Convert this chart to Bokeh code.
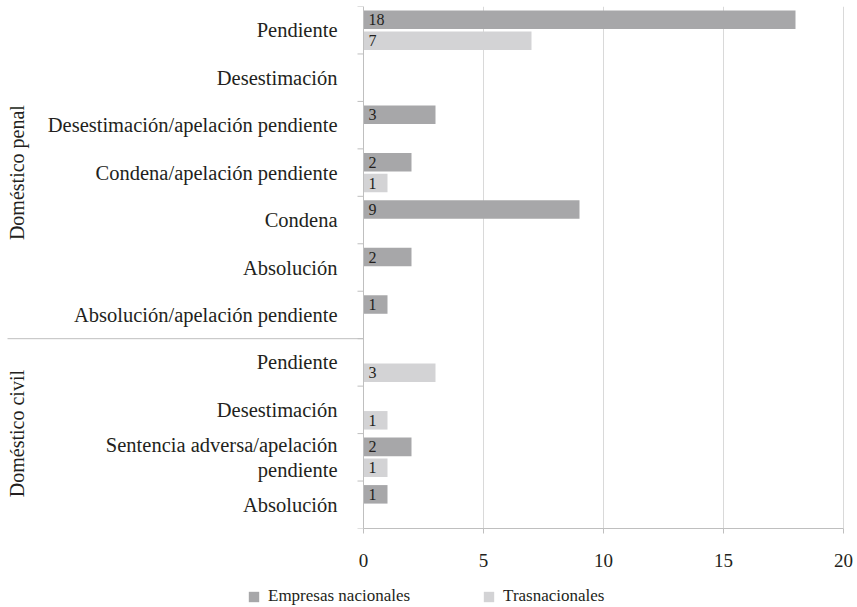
import math
from bokeh.plotting import figure
from bokeh.layouts import column
from bokeh.models import (FactorRange, Range1d, ColumnDataSource, Span, Legend,
                          LegendItem, Grid)
from bokeh.transform import dodge
from bokeh.core.properties import value
from bokeh.embed import file_html
from bokeh.resources import INLINE

# ---------------- data ----------------
groups = ["Doméstico penal", "Doméstico civil"]
penal_categories = ["Pendiente", "Desestimación",
                    "Desestimación/apelación pendiente",
                    "Condena/apelación pendiente", "Condena", "Absolución",
                    "Absolución/apelación pendiente"]
penal_nacionales = [18, 0, 3, 2, 9, 2, 1]
penal_trasnacionales = [7, 0, 0, 1, 0, 0, 0]
civil_categories = ["Pendiente", "Desestimación",
                    "Sentencia adversa/apelación\npendiente", "Absolución"]
civil_nacionales = [0, 0, 2, 1]
civil_trasnacionales = [3, 1, 1, 0]
series_names = ["Empresas nacionales", "Trasnacionales"]
x_ticks = [0, 5, 10, 15, 20]

# ---------------- style ----------------
FONT = "Liberation Serif"
TXT = "#231f20"
C_NAC = "#a7a7a9"
C_TRA = "#d3d3d5"
AXIS_C = "#bfbfbf"
GRID_C = "#d9d9d9"

group_cats = [penal_categories, civil_categories]
group_nac = [penal_nacionales, civil_nacionales]
group_tra = [penal_trasnacionales, civil_trasnacionales]

# top-to-bottom rows
factors_tb, nac, tra, labels = [], [], [], []
for g, cats, n_vals, t_vals in zip(groups, group_cats, group_nac, group_tra):
    for c, a, b in zip(cats, n_vals, t_vals):
        factors_tb.append((g, c))
        nac.append(a)
        tra.append(b)
        labels.append(c)

y_range = FactorRange(factors=list(reversed(factors_tb)), factor_padding=0,
                      group_padding=0, range_padding=0)

W = 857
PX = 24.0           # pixels per unit on x
ZERO = 363          # pixel position of x = 0
X0 = -ZERO / PX
X1 = (W - ZERO) / PX
p = figure(width=W, height=577, y_range=y_range,
           x_range=Range1d(X0, X1), output_backend="svg", toolbar_location=None,
           y_axis_location=None, min_border_left=0, min_border_right=0,
           min_border_top=6, min_border_bottom=49)
p.outline_line_color = None
p.background_fill_color = "white"
p.border_fill_color = "white"
for r in list(p.center):
    if isinstance(r, Grid) and r.dimension == 1:
        r.visible = False

src = ColumnDataSource(dict(f=factors_tb, nac=nac, tra=tra, label=labels))

OFF = 0.22
H = 0.39
p.hbar(y=dodge("f", OFF, range=p.y_range), left=0, right="nac",
       height=H, source=src, fill_color=C_NAC, line_color=None)
p.hbar(y=dodge("f", -OFF, range=p.y_range), left=0, right="tra",
       height=H, source=src, fill_color=C_TRA, line_color=None)

# value labels (non-zero only)
for vals, off in ((nac, OFF), (tra, -OFF)):
    idx = [i for i, v in enumerate(vals) if v != 0]
    vsrc = ColumnDataSource(dict(f=[factors_tb[i] for i in idx],
                                 t=[str(vals[i]) for i in idx]))
    p.text(x=0, y=dodge("f", off, range=p.y_range), text="t", source=vsrc,
           x_offset=5, text_align="left", text_baseline="middle",
           text_font=value(FONT), text_font_size="16px", text_color=TXT)

# category labels
p.text(x=0, y="f", text="label", source=src, x_offset=-26,
       text_align="right", text_baseline="middle", text_font=value(FONT),
       text_font_size="20.5px", text_color=TXT, text_line_height=1.15)

# group labels (rotated)
for g, cats in zip(groups, group_cats):
    n = len(cats)
    mid = (n - 1) / 2
    i = int(math.floor(mid))
    gsrc = ColumnDataSource(dict(f=[(g, cats[i])], t=[g]))
    p.text(x=0, y=dodge("f", -(mid - i), range=p.y_range), text="t",
           source=gsrc, x_offset=16 - ZERO, angle=math.pi / 2,
           text_align="center", text_baseline="middle", text_font=value(FONT),
           text_font_size="20px", text_color=TXT)

# y axis line and boundary ticks
p.add_layout(Span(location=0, dimension="height", line_color=AXIS_C,
                  line_width=1))
TICK = 6 / PX
tsrc = ColumnDataSource(dict(f=factors_tb))
p.segment(x0=-TICK, x1=0, y0=dodge("f", 0.5, range=p.y_range),
          y1=dodge("f", 0.5, range=p.y_range), source=tsrc,
          line_color=AXIS_C, line_width=1)
bsrc = ColumnDataSource(dict(f=[factors_tb[-1]]))
p.segment(x0=-TICK, x1=0, y0=dodge("f", -0.5, range=p.y_range),
          y1=dodge("f", -0.5, range=p.y_range), source=bsrc,
          line_color=AXIS_C, line_width=1)
# group separator
ssrc = ColumnDataSource(dict(f=[(groups[1], civil_categories[0])]))
p.segment(x0=X0 + 7 / PX, x1=0, y0=dodge("f", 0.5, range=p.y_range),
          y1=dodge("f", 0.5, range=p.y_range), source=ssrc,
          line_color=AXIS_C, line_width=1)

# x axis
ax = p.xaxis[0]
ax.ticker = x_ticks
ax.bounds = (0, 20)
ax.axis_line_color = AXIS_C
ax.major_tick_line_color = AXIS_C
ax.major_tick_in = 0
ax.major_tick_out = 5
ax.minor_tick_line_color = None
ax.major_label_standoff = 20
ax.major_label_text_font = FONT
ax.major_label_text_font_size = "19px"
ax.major_label_text_color = TXT
p.xgrid.grid_line_color = GRID_C

# ---------------- legend strip ----------------
lg = figure(width=W, height=29, x_range=Range1d(0, W), y_range=Range1d(0, 1),
            output_backend="svg", toolbar_location=None, x_axis_location=None,
            y_axis_location=None, min_border_left=0, min_border_right=0,
            min_border_top=0, min_border_bottom=0)
lg.outline_line_color = None
lg.grid.visible = False
# swatch renderers: one row each, placed outside the visible range
k_nac = lg.hbar(y=[-10], left=[0], right=[1], height=1,
                fill_color=C_NAC, line_color=None)
k_tra = lg.hbar(y=[-10], left=[0], right=[1], height=1,
                fill_color=C_TRA, line_color=None)
legend = Legend(items=[LegendItem(label=series_names[0], renderers=[k_nac]),
                       LegendItem(label=series_names[1], renderers=[k_tra])],
                orientation="horizontal", location=(247, 0), spacing=72,
                glyph_width=13, glyph_height=13, label_standoff=8,
                border_line_color=None, background_fill_alpha=0, padding=0,
                margin=0, label_text_font=FONT, label_text_font_size="17px",
                label_text_color=TXT)
lg.add_layout(legend, "center")

layout = column(p, lg, spacing=0)
open("out.html", "w").write(file_html(layout, INLINE))
